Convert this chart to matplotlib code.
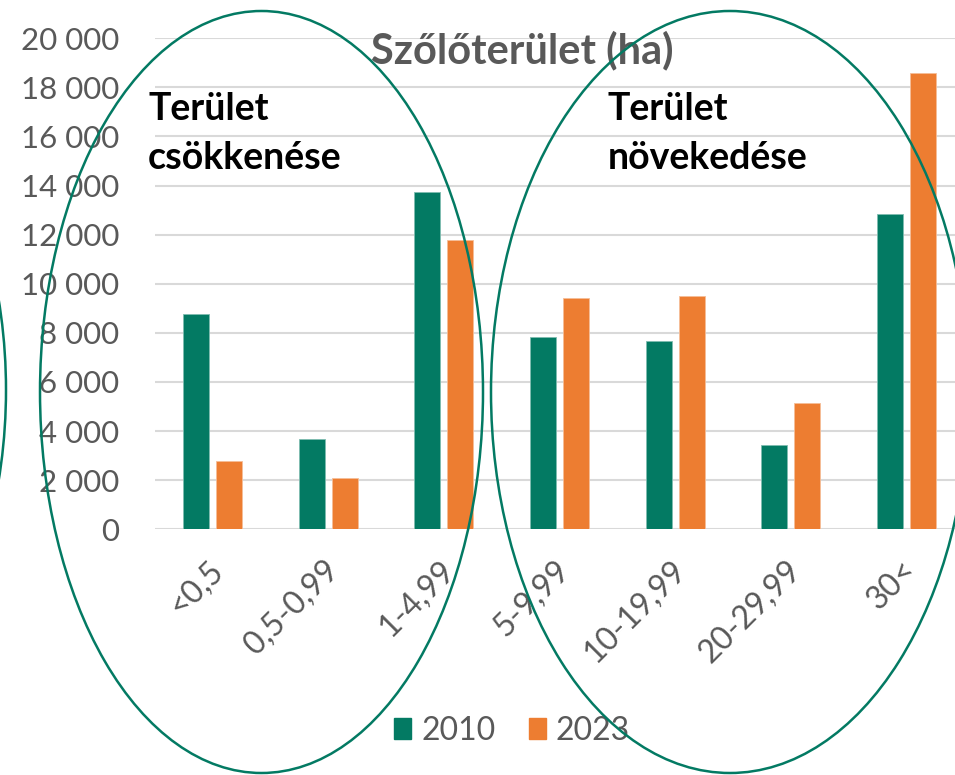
import numpy as np
import matplotlib
matplotlib.use("Agg")
import matplotlib.pyplot as plt
from matplotlib.patches import Ellipse, Patch

categories = ["<0,5", "0,5-0,99", "1-4,99", "5-9,99", "10-19,99", "20-29,99", "30<"]
values_2010 = [8750, 3680, 13750, 7850, 7650, 3450, 12850]
values_2023 = [2800, 2100, 11800, 9420, 9500, 5150, 18600]
series_labels = ["2010", "2023"]
title = "Szőlőterület (ha)"
yticks = [0, 2000, 4000, 6000, 8000, 10000, 12000, 14000, 16000, 18000, 20000]

GREEN = "#037A63"
ORANGE = "#ED7D31"
GRAY = "#595959"
FONT = ["Lato", "DejaVu Sans"]
plt.rcParams['font.family'] = FONT

W, H = 955, 775
fig = plt.figure(figsize=(W / 100, H / 100), dpi=100)
ax = fig.add_axes([155 / W, (H - 529.3) / H, 809 / W, 491 / H])

x = np.arange(len(categories))
bw = 0.225
off = 0.143
ax.bar(x - off, values_2010, bw, color=GREEN, edgecolor="#7FBDB1", linewidth=0.6, zorder=3)
ax.bar(x + off, values_2023, bw, color=ORANGE, edgecolor="#F6BE98", linewidth=0.6, zorder=3)

ax.set_xlim(-0.5, len(categories) - 0.5)
ax.set_ylim(0, 20000)
ax.set_yticks(yticks)
ax.set_yticklabels([f"{v:,}".replace(",", " ") for v in yticks], fontsize=22.5, color=GRAY)
ax.yaxis.grid(True, color="#D9D9D9", linewidth=1.5, zorder=0)
ax.set_axisbelow(True)
ax.tick_params(axis="y", length=0, pad=26)
ax.tick_params(axis="x", length=0)
for s in ax.spines.values():
    s.set_visible(False)
ax.set_xticks(x)
ax.set_xticklabels([])
for xi, lab in zip(x, categories):
    ax.annotate(lab, xy=(xi, 0), xycoords=("data", "axes fraction"),
                xytext=(4, -26), textcoords="offset points",
                rotation=45, ha="right", va="center", rotation_mode="anchor",
                fontsize=23, color=GRAY)

# title
fig.text(522 / W, 1 - 50 / H, title, ha="center", va="center", fontsize=30,
         fontweight="bold", color=GRAY)

# annotations
for tx, txt in [(148, "Terület\ncsökkenése"), (608, "Terület\nnövekedése")]:
    fig.text(tx / W, 1 - 92 / H, txt, ha="left", va="top",
             fontsize=27, fontweight="bold", color="black", linespacing=1.55)

# ellipses (pixel coords -> figure fraction)
def add_ellipse(cx, cy, a, b):
    e = Ellipse((cx / W, 1 - cy / H), 2 * a / W, 2 * b / H, fill=False,
                edgecolor=GREEN, linewidth=1.8, transform=fig.transFigure, zorder=10)
    fig.add_artist(e)

add_ellipse(261.5, 392, 221.5, 381)
add_ellipse(730, 392, 239, 381)
add_ellipse(-250, 390, 256, 381)

# legend
handles = [Patch(color=GREEN), Patch(color=ORANGE)]
fig.legend(handles, series_labels, loc="center", bbox_to_anchor=(512 / W, 1 - 731 / H),
           ncol=2, frameon=False, fontsize=23, labelcolor=GRAY,
           handlelength=0.55, handleheight=0.65, handletextpad=0.3, columnspacing=1.05)

fig.savefig("out.png", dpi=100)
